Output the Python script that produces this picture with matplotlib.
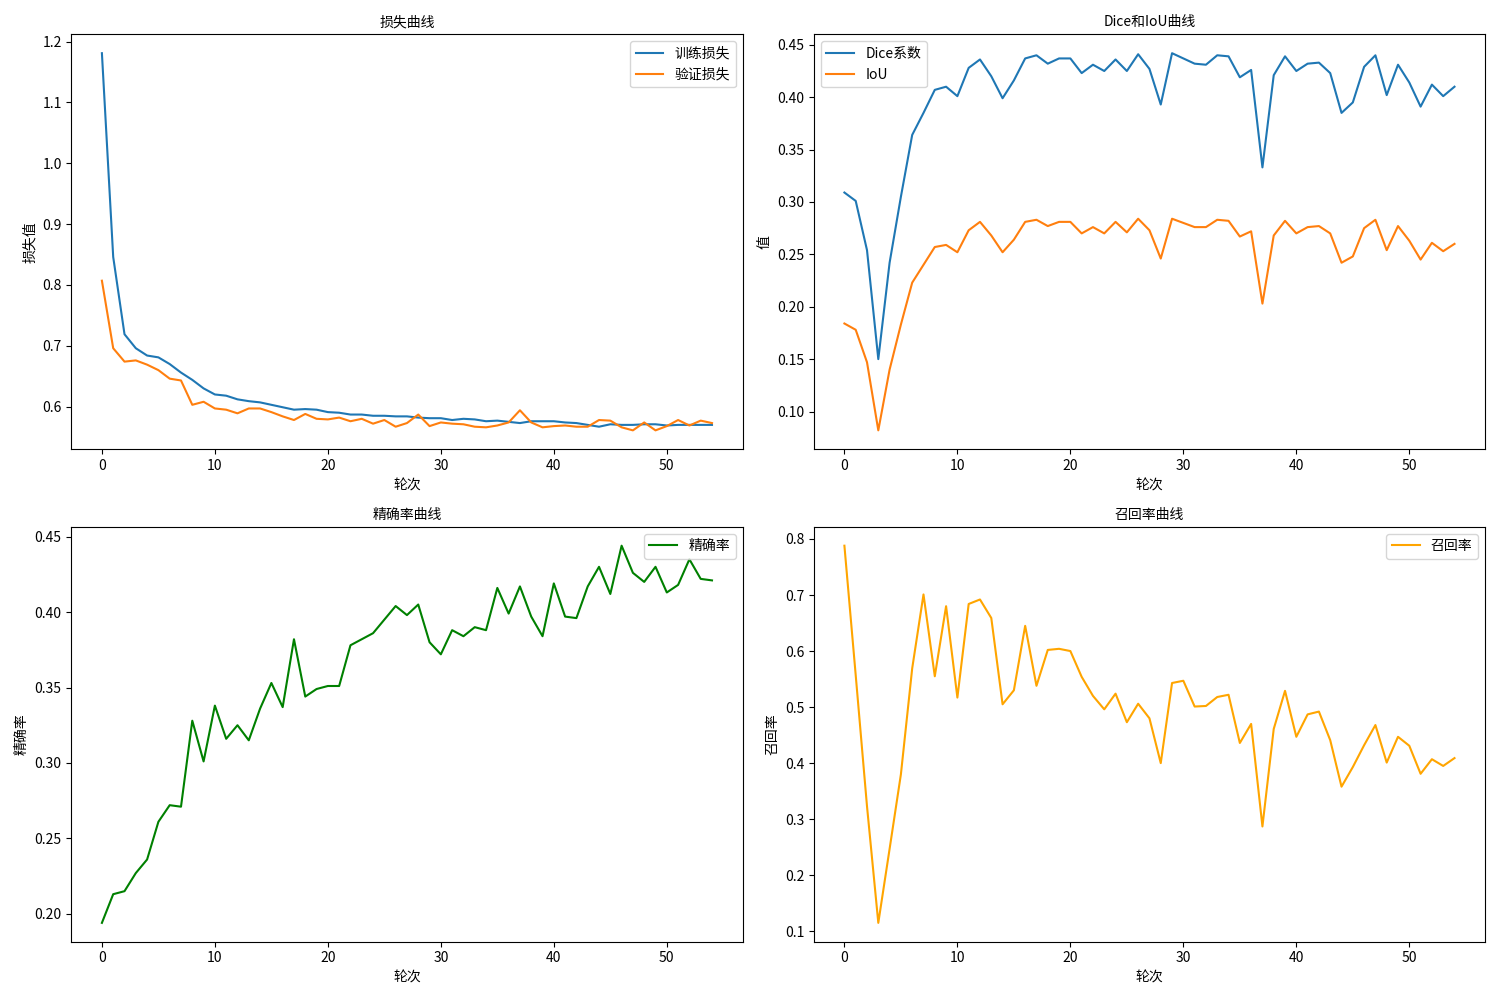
import matplotlib
matplotlib.use("Agg")
import matplotlib.pyplot as plt

plt.rcParams["font.family"] = ["Noto Sans CJK SC", "DejaVu Sans"]
plt.rcParams["axes.unicode_minus"] = False
plt.rcParams["axes.titlesize"] = 10

train_loss = [1.181, 0.846, 0.719, 0.696, 0.684, 0.681, 0.670, 0.656, 0.644, 0.630,
              0.620, 0.618, 0.612, 0.609, 0.607, 0.603, 0.599, 0.595, 0.596, 0.595,
              0.591, 0.590, 0.587, 0.587, 0.585, 0.585, 0.584, 0.584, 0.582, 0.581,
              0.581, 0.578, 0.580, 0.579, 0.576, 0.577, 0.575, 0.573, 0.576, 0.576,
              0.576, 0.574, 0.573, 0.570, 0.567, 0.571, 0.570, 0.570, 0.571, 0.571,
              0.569, 0.570, 0.570, 0.570, 0.570]
val_loss = [0.807, 0.696, 0.674, 0.676, 0.669, 0.660, 0.646, 0.643, 0.603, 0.608,
            0.597, 0.595, 0.589, 0.597, 0.597, 0.591, 0.584, 0.578, 0.588, 0.580,
            0.579, 0.582, 0.576, 0.580, 0.572, 0.578, 0.567, 0.573, 0.587, 0.568,
            0.574, 0.572, 0.571, 0.567, 0.566, 0.569, 0.574, 0.594, 0.574, 0.566,
            0.568, 0.569, 0.567, 0.567, 0.578, 0.577, 0.566, 0.561, 0.574, 0.561,
            0.568, 0.578, 0.569, 0.577, 0.573]
dice = [0.309, 0.301, 0.254, 0.150, 0.242, 0.305, 0.364, 0.385, 0.407, 0.410,
        0.401, 0.428, 0.436, 0.420, 0.399, 0.416, 0.437, 0.440, 0.432, 0.437,
        0.437, 0.423, 0.431, 0.425, 0.436, 0.425, 0.441, 0.427, 0.393, 0.442,
        0.437, 0.432, 0.431, 0.440, 0.439, 0.419, 0.426, 0.333, 0.421, 0.439,
        0.425, 0.432, 0.433, 0.423, 0.385, 0.395, 0.429, 0.440, 0.402, 0.431,
        0.414, 0.391, 0.412, 0.401, 0.410]
iou = [0.184, 0.178, 0.147, 0.082, 0.140, 0.183, 0.223, 0.240, 0.257, 0.259,
       0.252, 0.273, 0.281, 0.268, 0.252, 0.264, 0.281, 0.283, 0.277, 0.281,
       0.281, 0.270, 0.276, 0.270, 0.281, 0.271, 0.284, 0.273, 0.246, 0.284,
       0.280, 0.276, 0.276, 0.283, 0.282, 0.267, 0.272, 0.203, 0.268, 0.282,
       0.270, 0.276, 0.277, 0.270, 0.242, 0.248, 0.275, 0.283, 0.254, 0.277,
       0.263, 0.245, 0.261, 0.253, 0.260]
precision = [0.194, 0.213, 0.215, 0.227, 0.236, 0.261, 0.272, 0.271, 0.328, 0.301,
             0.338, 0.316, 0.325, 0.315, 0.336, 0.353, 0.337, 0.382, 0.344, 0.349,
             0.351, 0.351, 0.378, 0.382, 0.386, 0.395, 0.404, 0.398, 0.405, 0.380,
             0.372, 0.388, 0.384, 0.390, 0.388, 0.416, 0.399, 0.417, 0.397, 0.384,
             0.419, 0.397, 0.396, 0.417, 0.430, 0.412, 0.444, 0.426, 0.420, 0.430,
             0.413, 0.418, 0.435, 0.422, 0.421]
recall = [0.788, 0.557, 0.323, 0.115, 0.247, 0.380, 0.569, 0.701, 0.555, 0.680,
          0.517, 0.684, 0.692, 0.659, 0.505, 0.530, 0.645, 0.538, 0.602, 0.604,
          0.600, 0.554, 0.520, 0.496, 0.524, 0.473, 0.506, 0.480, 0.400, 0.543,
          0.547, 0.501, 0.502, 0.518, 0.522, 0.436, 0.470, 0.287, 0.461, 0.529,
          0.447, 0.487, 0.492, 0.441, 0.358, 0.393, 0.432, 0.468, 0.401, 0.447,
          0.431, 0.381, 0.407, 0.395, 0.409]
epochs = list(range(len(train_loss)))

fig, axes = plt.subplots(2, 2, figsize=(15, 10), dpi=100)

ax = axes[0, 0]
ax.plot(epochs, train_loss, label="训练损失")
ax.plot(epochs, val_loss, label="验证损失")
ax.set_title("损失曲线")
ax.set_xlabel("轮次")
ax.set_ylabel("损失值")
ax.legend(loc="upper right")

ax = axes[0, 1]
ax.plot(epochs, dice, label="Dice系数")
ax.plot(epochs, iou, label="IoU")
ax.set_title("Dice和IoU曲线")
ax.set_xlabel("轮次")
ax.set_ylabel("值")
ax.legend(loc="upper left")

ax = axes[1, 0]
ax.plot(epochs, precision, color="green", label="精确率")
ax.set_title("精确率曲线")
ax.set_xlabel("轮次")
ax.set_ylabel("精确率")
ax.legend(loc="upper right")

ax = axes[1, 1]
ax.plot(epochs, recall, color="orange", label="召回率")
ax.set_title("召回率曲线")
ax.set_xlabel("轮次")
ax.set_ylabel("召回率")
ax.legend(loc="upper right")

plt.tight_layout()
plt.savefig("out.png")
